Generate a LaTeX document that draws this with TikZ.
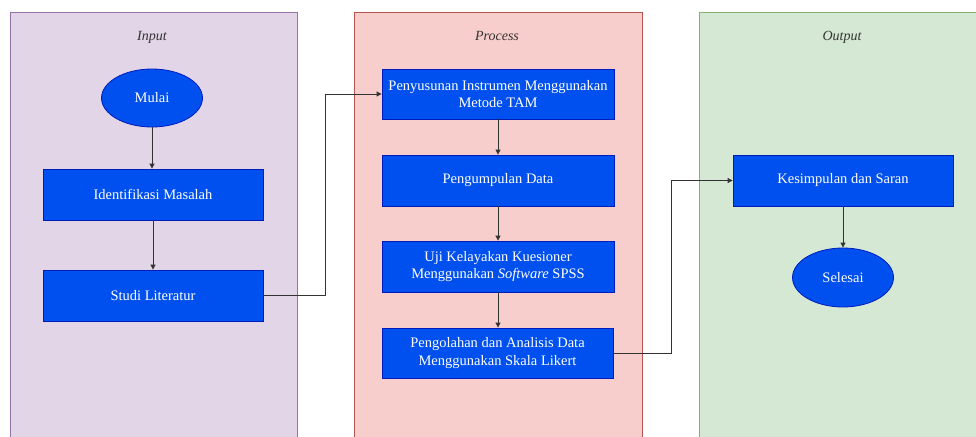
\documentclass[tikz,border=0pt]{standalone}
\usepackage{fontspec}
\setmainfont{Liberation Serif}
\usetikzlibrary{shapes.geometric,arrows.meta}
\definecolor{pfill}{HTML}{E1D5E7}\definecolor{pdraw}{HTML}{9673A6}
\definecolor{rfill}{HTML}{F8CECC}\definecolor{rdraw}{HTML}{B85450}
\definecolor{gfill}{HTML}{D5E8D4}\definecolor{gdraw}{HTML}{82B366}
\definecolor{bfill}{HTML}{0050EF}\definecolor{bdraw}{HTML}{001DBC}
\definecolor{lcol}{HTML}{333333}
\tikzset{
  panel/.style={line width=0.8pt},
  ptitle/.style={font=\fontsize{14}{16}\selectfont\itshape, text=black!80},
  stepbox/.style={rectangle, fill=bfill, draw=bdraw, line width=0.8pt, text=white, align=center,
    font=\fontsize{14.5}{17.5}\selectfont, inner sep=0pt},
  term/.style={ellipse, fill=bfill, draw=bdraw, line width=0.8pt, text=white,
    font=\fontsize{14.5}{17}\selectfont, inner sep=0pt},
  conn/.style={draw=lcol, line width=0.8pt, -{Triangle[length=5pt,width=5pt]}},
}
\begin{document}
\begin{tikzpicture}[x=1pt,y=-1pt]
\useasboundingbox (0,0) rectangle (976,436);
% panels
\fill[pfill] (10,12) rectangle (297,440);
\draw[pdraw,panel] (10,440) -- (10,12) -- (297,12) -- (297,440);
\fill[rfill] (354,12) rectangle (642,440);
\draw[rdraw,panel] (354,440) -- (354,12) -- (642,12) -- (642,440);
\fill[gfill] (699,12) rectangle (980,440);
\draw[gdraw,panel] (699,440) -- (699,12) -- (980,12);
\node[ptitle, anchor=base] (tin) at (152,41) {Input};
\node[ptitle, anchor=base] (tpr) at (497,41) {Process};
\node[ptitle, anchor=base] (tout) at (842,41) {Output};
% nodes
\node[term, minimum width=101pt, minimum height=58pt] (mulai) at (152,98) {Mulai};
\node[stepbox, minimum width=220pt, minimum height=51pt] (ident) at (153,194.5) {Identifikasi Masalah};
\node[stepbox, minimum width=220pt, minimum height=51pt] (studi) at (153,295.5) {Studi Literatur};
\node[stepbox, minimum width=232pt, minimum height=50pt] (pen) at (498,94) {Penyusunan Instrumen Menggunakan\\Metode TAM};
\node[stepbox, minimum width=232pt, minimum height=51pt] (kum) at (498,180.5) {Pengumpulan Data};
\node[stepbox, minimum width=232pt, minimum height=51pt] (uji) at (498,266.5) {Uji Kelayakan Kuesioner\\Menggunakan \textit{Software} SPSS};
\node[stepbox, minimum width=231pt, minimum height=50pt] (olah) at (497.5,353) {Pengolahan dan Analisis Data\\Menggunakan Skala Likert};
\node[stepbox, minimum width=220pt, minimum height=51pt] (kes) at (843,180.5) {Kesimpulan dan Saran};
\node[term, minimum width=101pt, minimum height=59pt] (sel) at (843,277.5) {Selesai};
% connectors
\draw[conn] (mulai.south) -- (mulai.south |- ident.north);
\draw[conn] (ident.south) -- (ident.south |- studi.north);
\coordinate (c1) at (325,295.5);
\coordinate (c2) at (325,94);
\draw[conn] (studi.east) -- (c1) -- (c2) -- (pen.west);
\draw[conn] (pen.south) -- (kum.north);
\draw[conn] (kum.south) -- (uji.north);
\draw[conn] (uji.south) -- (uji.south |- olah.north);
\coordinate (c3) at (671,353);
\coordinate (c4) at (671,180.5);
\draw[conn] (olah.east) -- (c3) -- (c4) -- (kes.west);
\draw[conn] (kes.south) -- (kes.south |- sel.north);
\end{tikzpicture}
\end{document}
